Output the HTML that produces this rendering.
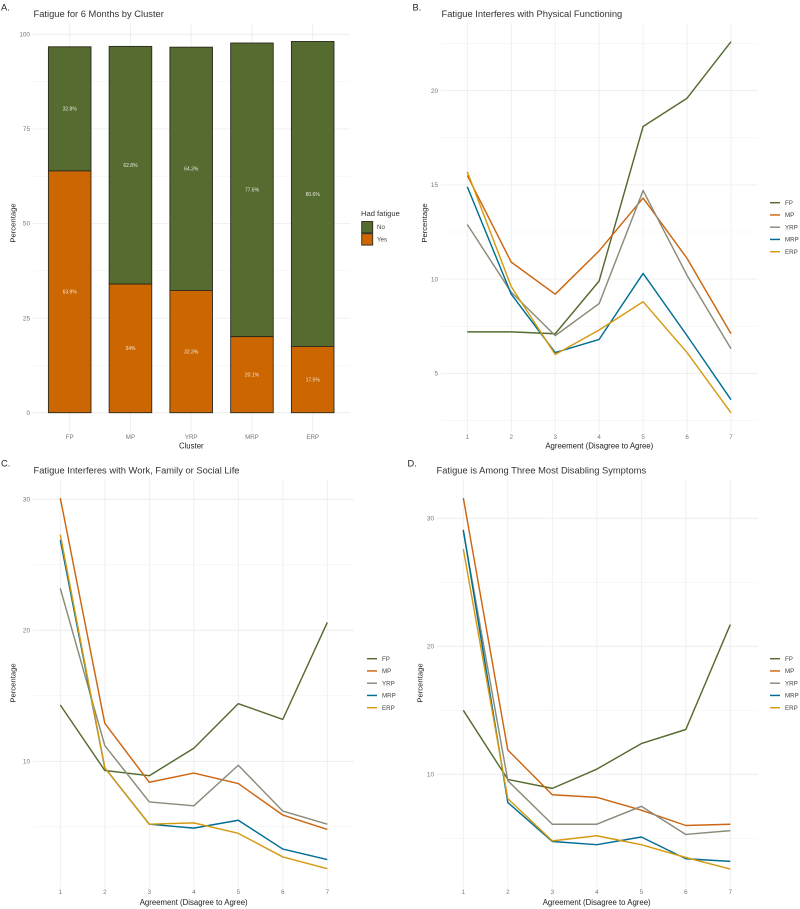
<!DOCTYPE html>
<html>
<head>
<meta charset="utf-8">
<title>Fatigue charts</title>
<style>
html,body{margin:0;padding:0;background:#fff;width:800px;height:909px;overflow:hidden}
svg{display:block;font-family:"Liberation Sans",sans-serif;filter:blur(0.25px)}
</style>
</head>
<body>
<svg id="fig" width="800" height="909" viewBox="0 0 800 909" xmlns="http://www.w3.org/2000/svg"></svg>
<script>
const clusters = ['FP', 'MP', 'YRP', 'MRP', 'ERP'];
const hadFatigueYes = [63.9, 34, 32.3, 20.1, 17.5];
const hadFatigueNo = [32.8, 62.8, 64.3, 77.6, 80.6];
const barTicks = [0, 25, 50, 75, 100];
const barMinorTicks = [12.5, 37.5, 62.5, 87.5];

const agreementLevels = [1, 2, 3, 4, 5, 6, 7];

const physicalFP = [7.2, 7.2, 7.1, 9.9, 18.1, 19.6, 22.6];
const physicalMP = [15.5, 10.9, 9.2, 11.5, 14.3, 11.1, 7.1];
const physicalYRP = [12.9, 9.3, 7.0, 8.7, 14.7, 10.2, 6.3];
const physicalMRP = [14.9, 9.2, 6.1, 6.8, 10.3, 7.0, 3.6];
const physicalERP = [15.7, 9.6, 6.0, 7.3, 8.8, 6.1, 2.9];
const physicalTicks = [5, 10, 15, 20];
const physicalMinorTicks = [2.5, 7.5, 12.5, 17.5, 22.5];

const workFP = [14.3, 9.3, 8.9, 11.0, 14.4, 13.2, 20.6];
const workMP = [30.1, 12.9, 8.4, 9.1, 8.3, 5.9, 4.8];
const workYRP = [23.2, 11.2, 6.9, 6.6, 9.7, 6.2, 5.2];
const workMRP = [26.9, 9.5, 5.2, 4.9, 5.5, 3.3, 2.5];
const workERP = [27.3, 9.5, 5.2, 5.3, 4.5, 2.7, 1.8];
const workTicks = [10, 20, 30];
const workMinorTicks = [5, 15, 25];

const disablingFP = [15.0, 9.6, 8.9, 10.4, 12.4, 13.5, 21.7];
const disablingMP = [31.6, 11.9, 8.4, 8.2, 7.2, 6.0, 6.1];
const disablingYRP = [29.0, 9.5, 6.1, 6.1, 7.5, 5.3, 5.6];
const disablingMRP = [29.1, 7.8, 4.75, 4.5, 5.1, 3.4, 3.2];
const disablingERP = [27.6, 8.1, 4.8, 5.2, 4.5, 3.5, 2.6];
const disablingTicks = [10, 20, 30];
const disablingMinorTicks = [5, 15, 25];

const svgNS = 'http://www.w3.org/2000/svg';
const fig = document.getElementById('fig');
const OLIVE = '#556b2f', ORANGE = '#cc6600';
const seriesColors = {FP: '#556b2f', MP: '#cc6611', YRP: '#8b8b7a', MRP: '#006e94', ERP: '#d69a10'};

function shape(tag, name, attrs) {
  const el = document.createElementNS(svgNS, tag);
  
  
  for (const k in attrs) el.setAttribute(k, attrs[k]);
  fig.appendChild(el);
  return el;
}
function label(name, str, x, y, size, color, anchor, rotate) {
  const el = document.createElementNS(svgNS, 'text');
  
  
  el.setAttribute('x', x);
  el.setAttribute('y', y);
  el.setAttribute('font-size', size);
  el.setAttribute('fill', color);
  el.setAttribute('text-anchor', anchor || 'start');
  if (rotate) el.setAttribute('transform', 'rotate(' + rotate + ' ' + x + ' ' + y + ')');
  el.textContent = str;
  fig.appendChild(el);
  return el;
}
function linear(d0, d1, r0, r1) {
  return function (v) { return r0 + (v - d0) * (r1 - r0) / (d1 - d0); };
}
function hGrid(prefix, ticks, minor, sy, x0, x1) {
  minor.forEach(function (t) {
    shape('line', prefix + '-minor-gridline-' + t, {x1: x0, x2: x1, y1: sy(t), y2: sy(t), stroke: '#f1f1f1', 'stroke-width': 0.5});
  });
  ticks.forEach(function (t) {
    shape('line', prefix + '-gridline-' + t, {x1: x0, x2: x1, y1: sy(t), y2: sy(t), stroke: '#ececec', 'stroke-width': 0.8});
  });
}
function vGrid(prefix, positions, y0, y1) {
  positions.forEach(function (x, i) {
    shape('line', prefix + '-vgridline-' + (i + 1), {x1: x, x2: x, y1: y0, y2: y1, stroke: '#ececec', 'stroke-width': 0.8});
  });
}
function frameText(prefix, tag, tagX, tagY, title, titleX, titleY, yTitleX, yTitleY, xTitle, xTitleX, xTitleY) {
  label(prefix + '-panel-tag', tag, tagX, tagY, 9.3, '#222');
  label(prefix + '-title', title, titleX, titleY, 9.35, '#333');
  label(prefix + '-y-axis-title', 'Percentage', yTitleX, yTitleY, 7.7, '#222', 'middle', -90);
  label(prefix + '-x-axis-title', xTitle, xTitleX, xTitleY, 7.8, '#222', 'middle');
}
function linePanel(cfg) {
  const sx = linear(1, 7, cfg.x1, cfg.x7);
  const sy = linear(cfg.vA, cfg.vB, cfg.yA, cfg.yB);
  hGrid(cfg.prefix, cfg.ticks, cfg.minor, sy, cfg.left, cfg.right);
  vGrid(cfg.prefix, agreementLevels.map(sx), cfg.top, cfg.bottom);
  cfg.ticks.forEach(function (t) {
    label(cfg.prefix + '-y-tick-' + t, String(t), cfg.left - 3, sy(t) + 2.2, 6.4, '#777', 'end');
  });
  agreementLevels.forEach(function (a) {
    label(cfg.prefix + '-x-tick-' + a, String(a), sx(a), cfg.bottom + 7.2, 6.2, '#777', 'middle');
  });
  clusters.forEach(function (c, i) {
    const pts = cfg.series[i].map(function (v, j) { return sx(agreementLevels[j]) + ',' + sy(v); }).join(' ');
    shape('polyline', cfg.prefix + '-line-' + c.toLowerCase(), {points: pts, fill: 'none', stroke: seriesColors[c], 'stroke-width': 1.45, 'stroke-linejoin': 'round'});
    const ly = cfg.legendY + i * 12.25;
    shape('line', cfg.prefix + '-legend-key-' + c.toLowerCase(), {x1: cfg.legendX, x2: cfg.legendX + 10, y1: ly, y2: ly, stroke: seriesColors[c], 'stroke-width': 1.45});
    label(cfg.prefix + '-legend-label-' + c.toLowerCase(), c, cfg.legendX + 15, ly + 2.1, 6.2, '#444');
  });
}

/* Panel A: stacked bars */
(function () {
  const sy = linear(0, 100, 412.7, 34.3);
  const sx = linear(0, 4, 69.7, 312.7);
  const barW = 42.6;
  hGrid('bars', barTicks, barMinorTicks, sy, 33, 350);
  vGrid('bars', clusters.map(function (c, i) { return sx(i); }), 23, 432);
  barTicks.forEach(function (t) {
    label('bars-y-tick-' + t, String(t), 30, sy(t) + 2.2, 6.4, '#777', 'end');
  });
  clusters.forEach(function (c, i) {
    const x = sx(i) - barW / 2;
    const yes = hadFatigueYes[i], no = hadFatigueNo[i];
    shape('rect', 'bar-' + c.toLowerCase() + '-no', {x: x, y: sy(yes + no), width: barW, height: sy(yes) - sy(yes + no), fill: OLIVE, stroke: '#2a2a1e', 'stroke-width': 0.9});
    shape('rect', 'bar-' + c.toLowerCase() + '-yes', {x: x, y: sy(yes), width: barW, height: sy(0) - sy(yes), fill: ORANGE, stroke: '#2a2a1e', 'stroke-width': 0.9});
    label('bar-label-' + c.toLowerCase() + '-no', no + '%', sx(i), sy(yes + no / 2) + 1.8, 5, '#e8e8e0', 'middle');
    label('bar-label-' + c.toLowerCase() + '-yes', yes + '%', sx(i), sy(yes / 2) + 1.8, 5, '#f3e6d8', 'middle');
    label('bars-x-tick-' + c.toLowerCase(), c, sx(i), 439.2, 6.2, '#777', 'middle');
  });
  label('legend-title', 'Had fatigue', 361, 216, 7.6, '#333');
  shape('rect', 'legend-key-no', {x: 361.7, y: 221.5, width: 11, height: 11.4, fill: OLIVE, stroke: '#2a2a1e', 'stroke-width': 0.9});
  shape('rect', 'legend-key-yes', {x: 361.7, y: 233.7, width: 11, height: 11.4, fill: ORANGE, stroke: '#2a2a1e', 'stroke-width': 0.9});
  label('legend-label-no', 'No', 377, 229.2, 6.2, '#444');
  label('legend-label-yes', 'Yes', 377, 241.4, 6.2, '#444');
  frameText('bars', 'A.', 1, 10.5, 'Fatigue for 6 Months by Cluster', 33.5, 17.2, 15.5, 223, 'Cluster', 191.3, 448.5);
})();

/* Panel B */
linePanel({
  prefix: 'physical', x1: 467.3, x7: 731, vA: 20, vB: 5, yA: 90.7, yB: 373.3,
  left: 441, right: 758, top: 23, bottom: 432,
  ticks: physicalTicks, minor: physicalMinorTicks,
  series: [physicalFP, physicalMP, physicalYRP, physicalMRP, physicalERP],
  legendX: 770, legendY: 202.7
});
frameText('physical', 'B.', 412.5, 10.5, 'Fatigue Interferes with Physical Functioning', 441.5, 17.2, 427, 223, 'Agreement (Disagree to Agree)', 599.3, 448.5);

/* Panel C */
linePanel({
  prefix: 'work', x1: 60.3, x7: 327.3, vA: 30, vB: 10, yA: 499.3, yB: 761.3,
  left: 33, right: 354, top: 479, bottom: 887,
  ticks: workTicks, minor: workMinorTicks,
  series: [workFP, workMP, workYRP, workMRP, workERP],
  legendX: 367, legendY: 658.7
});
frameText('work', 'C.', 1, 466.5, 'Fatigue Interferes with Work, Family or Social Life', 33.5, 473.5, 15.5, 683, 'Agreement (Disagree to Agree)', 193.7, 905);

/* Panel D */
linePanel({
  prefix: 'disabling', x1: 463.3, x7: 730.3, vA: 30, vB: 10, yA: 518.3, yB: 774.3,
  left: 437, right: 758, top: 479, bottom: 887,
  ticks: disablingTicks, minor: disablingMinorTicks,
  series: [disablingFP, disablingMP, disablingYRP, disablingMRP, disablingERP],
  legendX: 770, legendY: 658.7
});
frameText('disabling', 'D.', 407.5, 466.5, 'Fatigue is Among Three Most Disabling Symptoms', 436.5, 473.5, 422.5, 683, 'Agreement (Disagree to Agree)', 596.7, 905);
</script>
</body>
</html>
